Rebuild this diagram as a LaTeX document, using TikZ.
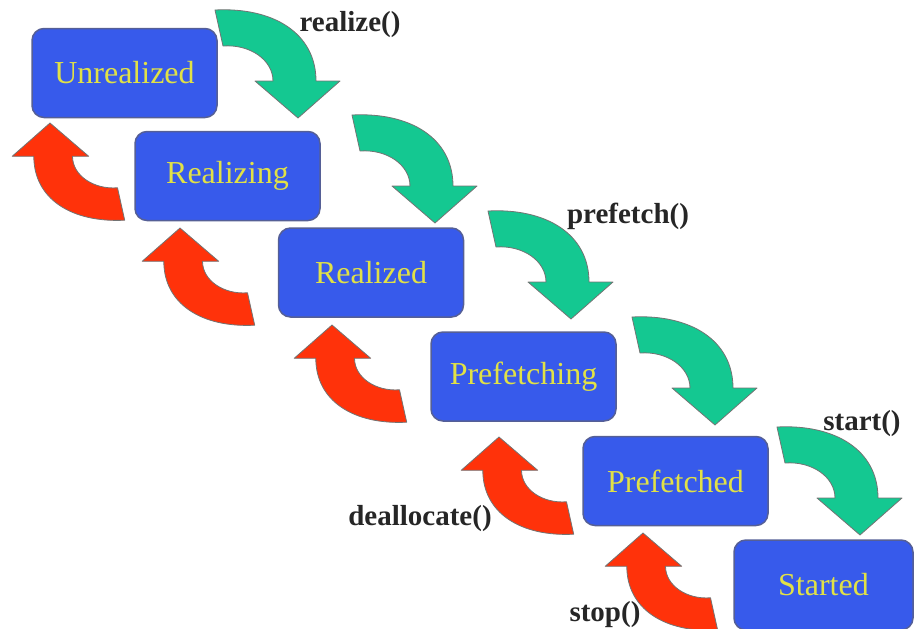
\documentclass[tikz,border=0pt]{standalone}
\usepackage{fontspec}
\setmainfont{LiberationSerif}[Extension=.ttf, UprightFont=*-Regular, BoldFont=*-Bold, ItalicFont=*-Italic, BoldItalicFont=*-BoldItalic]
\definecolor{stateblue}{RGB}{55,90,235}
\definecolor{stateedge}{RGB}{85,95,150}
\definecolor{statetext}{RGB}{225,225,70}
\definecolor{fwdgreen}{RGB}{20,200,145}
\definecolor{backred}{RGB}{255,50,10}
\begin{document}
\begin{tikzpicture}[x=1pt,y=-1pt,
  state/.style={rounded corners=12pt, fill=stateblue, draw=stateedge,
    line width=1.5pt, minimum width=185pt, minimum height=89pt,
    inner sep=0pt, text=statetext, font=\fontsize{32}{36}\selectfont},
  call/.style={font=\bfseries\fontsize{29}{32}\selectfont, text=black!85},
  bandoutline/.style={draw=black!55, line width=0.8pt, line join=round},
  % curved block arrow, tip at the origin, pointing down
  pics/bendarrow/.style={code={
    \path[bandoutline, pic actions]
      (-83,-108) .. controls (-25,-111) and (18,-85) .. (18,-37)
      -- (42,-37) -- (0,0) -- (-43,-37) -- (-25,-37)
      .. controls (-25,-58) and (-48,-74) .. (-75,-72) -- cycle;
  }},
  fwd/.style={fill=fwdgreen},
  back/.style={fill=backred, rotate=180, scale=0.9}
]
\useasboundingbox (0,0) rectangle (914,629);

% forward transitions
\pic[fwd] (g1) at (298,118) {bendarrow};
\pic[fwd] (g2) at (435,223) {bendarrow};
\pic[fwd] (g3) at (571,319) {bendarrow};
\pic[fwd] (g4) at (715,425) {bendarrow};
\pic[fwd] (g5) at (860,535) {bendarrow};

% backward transitions
\pic[back] (r1) at (50,123) {bendarrow};
\pic[back] (r2) at (180,228) {bendarrow};
\pic[back] (r3) at (332,325) {bendarrow};
\pic[back] (r4) at (499,437) {bendarrow};
\pic[back] (r5) at (643,533) {bendarrow};

% states
\node[state] (unrealized)  at (124.5,73)  {Unrealized};
\node[state] (realizing)   at (227.5,176) {Realizing};
\node[state] (realized)    at (371,272.5) {Realized};
\node[state] (prefetching) at (523.5,376.5) {Prefetching};
\node[state] (prefetched)  at (675.5,481) {Prefetched};
\node[state, minimum width=179pt, minimum height=90pt] (started) at (823.5,585) {Started};

% method labels
\node[call] (lrealize)    at (350,25)  {realize()};
\node[call] (lprefetch)   at (628,216) {prefetch()};
\node[call] (lstart)      at (862,424) {start()};
\node[call] (ldeallocate) at (420,519) {deallocate()};
\node[call] (lstop)       at (605,615) {stop()};
\end{tikzpicture}
\end{document}
